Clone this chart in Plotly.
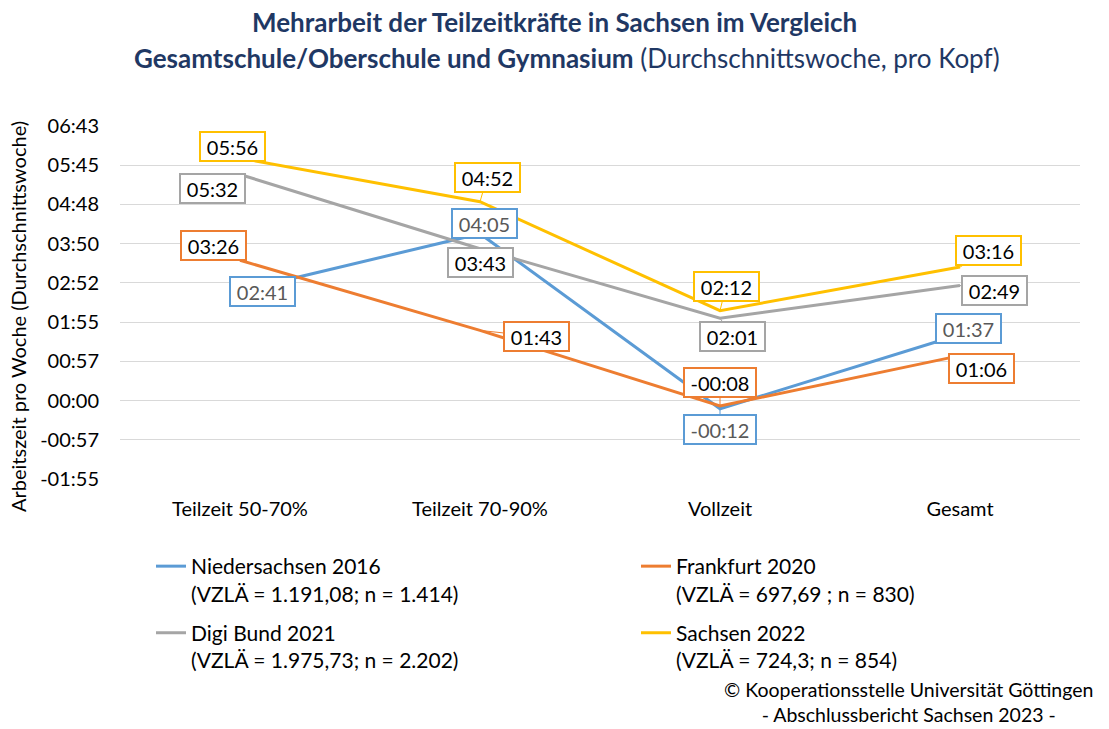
import plotly.graph_objects as go

categories = ["Teilzeit 50-70%", "Teilzeit 70-90%", "Vollzeit", "Gesamt"]
# values in minutes per week
niedersachsen_2016 = [161, 245, -12, 97]
frankfurt_2020 = [206, 103, -8, 66]
digi_bund_2021 = [332, 223, 121, 169]
sachsen_2022 = [356, 292, 132, 196]

series_names = [
    "Niedersachsen 2016<br>(VZLÄ = 1.191,08; n = 1.414)",
    "Frankfurt 2020<br>(VZLÄ = 697,69 ; n = 830)",
    "Digi Bund 2021<br>(VZLÄ = 1.975,73; n = 2.202)",
    "Sachsen 2022<br>(VZLÄ = 724,3; n = 854)",
]
series_values = [niedersachsen_2016, frankfurt_2020, digi_bund_2021, sachsen_2022]
colors = ["#5B9BD5", "#ED7D31", "#A5A5A5", "#FFC000"]
label_text_colors = ["#595959", "#000000", "#000000", "#000000"]
legend_ids = ["legend", "legend2", "legend", "legend2"]

# label offsets (pixels) from each point: (ax, ay)
label_offsets = [
    [(22, 1), (4.5, -10), (0, 21), (8, -6)],
    [(-27, -15), (56, 6), (0, -23.5), (21, 13)],
    [(-28, 14.5), (0.5, 13.7), (12.5, 18.6), (34, 5)],
    [(-7.5, -11.6), (7, -24), (6, -24.5), (28, -17)],
]

step = 57.6  # Excel axis major unit 0.04 day
tick_vals = [-2 * step + i * step for i in range(10)]


def fmt(m):
    sign = "-" if m < -1e-9 else ""
    m = int(abs(m) + 1e-9)
    return f"{sign}{m // 60:02d}:{m % 60:02d}"


tick_text = [fmt(v) for v in tick_vals]
FONT = "Lato, 'Open Sans', sans-serif"
FS = 20

fig = go.Figure()
for i, (name, vals, col, lg) in enumerate(zip(series_names, series_values, colors, legend_ids)):
    fig.add_trace(go.Scatter(
        x=categories, y=vals, name=name, mode="lines",
        line=dict(color=col, width=3),
        legend=lg, legendgroup=f"g{i}",
        hoverinfo="skip",
    ))

annotations = []
for vals, col, tcol, offs in zip(series_values, colors, label_text_colors, label_offsets):
    for c, v, (ax, ay) in zip(categories, vals, offs):
        txt = fmt(v)
        annotations.append(dict(
            x=c, y=v, xref="x", yref="y", text=txt,
            showarrow=True, arrowhead=0, arrowwidth=1, arrowcolor=col,
            standoff=0, ax=ax, ay=ay,
            font=dict(family=FONT, size=FS, color=tcol),
            bgcolor="white", bordercolor=col, borderwidth=2, borderpad=1,
            width=68 if txt.startswith("-") else 61, height=25,
        ))

# titles
annotations.append(dict(
    text="<b>Mehrarbeit der Teilzeitkräfte in Sachsen im Vergleich</b>",
    xref="paper", yref="paper", x=0.453, y=1.2946, showarrow=False,
    xanchor="center", yanchor="middle",
    font=dict(family=FONT, size=26, color="#1F3864"),
))
annotations.append(dict(
    text="<b>Gesamtschule/Oberschule und Gymnasium</b> (Durchschnittswoche, pro Kopf)",
    xref="paper", yref="paper", x=0.466, y=1.1926, showarrow=False,
    xanchor="center", yanchor="middle",
    font=dict(family=FONT, size=26, color="#1F3864"),
))
annotations.append(dict(
    text="Arbeitszeit pro Woche (Durchschnittswoche)",
    xref="paper", yref="paper", x=(18 - 120) / 960, y=(479 - 317) / 353,
    showarrow=False, textangle=-90, xanchor="center", yanchor="middle",
    font=dict(family=FONT, size=FS, color="#000000"),
))
annotations.append(dict(
    text="© Kooperationsstelle Universität Göttingen<br>- Abschlussbericht Sachsen 2023 -",
    xref="paper", yref="paper", x=(908 - 120) / 960, y=(479 - 702) / 353,
    showarrow=False, xanchor="center", yanchor="middle", align="center",
    font=dict(family=FONT, size=19.5, color="#000000"),
))

legend_common = dict(
    orientation="v", xanchor="left", yanchor="top",
    valign="top", traceorder="grouped", tracegroupgap=9,
    font=dict(family=FONT, size=21, color="#000000"),
    itemwidth=30, bgcolor="rgba(0,0,0,0)",
)

fig.update_layout(
    width=1109, height=729,
    margin=dict(l=120, r=29, t=126, b=250),
    paper_bgcolor="white", plot_bgcolor="white",
    font=dict(family=FONT, size=FS, color="#000000"),
    showlegend=True,
    legend=dict(x=(151 - 120) / 960, y=(479 - 546) / 353, **legend_common),
    legend2=dict(x=(636 - 120) / 960, y=(479 - 546) / 353, **legend_common),
    annotations=annotations,
    xaxis=dict(
        type="category", range=[-0.5, 3.5], showgrid=False, zeroline=False,
        showline=False, ticks="", ticklabelstandoff=16,
        tickfont=dict(family=FONT, size=FS, color="#000000"),
    ),
    yaxis=dict(
        range=[tick_vals[0], tick_vals[-1]], tickvals=tick_vals, ticktext=tick_text,
        showgrid=True, gridcolor="#D9D9D9", gridwidth=1,
        zeroline=False, showline=False, ticks="", ticklabelstandoff=20,
        tickfont=dict(family=FONT, size=FS, color="#000000"),
    ),
)

fig.write_html(
    "out.html",
    config={"displayModeBar": False},
    post_script="document.body.style.margin='0';document.body.style.overflow='hidden';",
)
